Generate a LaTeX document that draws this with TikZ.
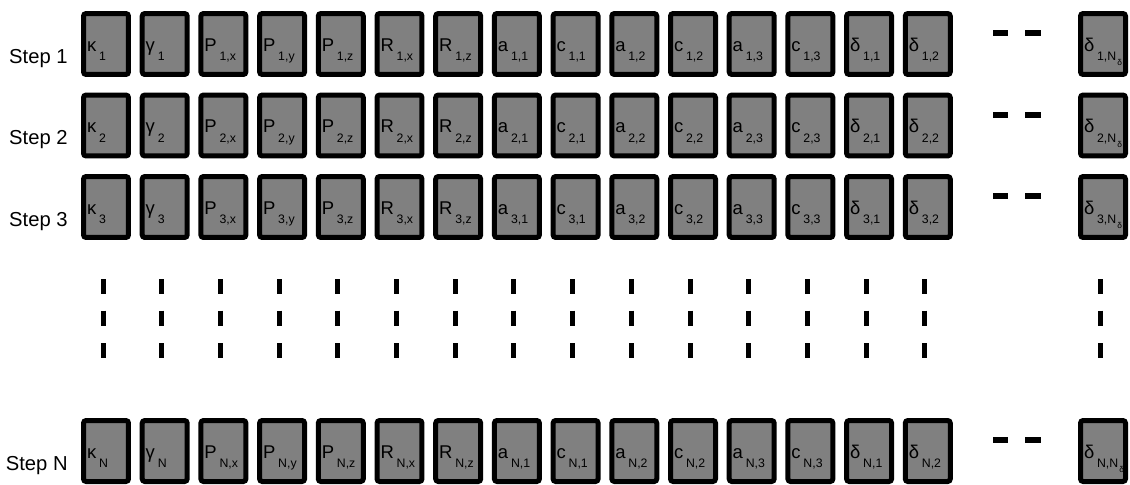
\documentclass[tikz,border=0pt]{standalone}
\usepackage{fontspec}
\setmainfont{Liberation Sans}
\usetikzlibrary{calc}

% symbol with a lowered index
\newcommand{\sub}[2]{\raisebox{-2.3pt}[0pt][0pt]{#1\kern1.6pt\raisebox{-5.5pt}{\fontsize{7}{8}\selectfont #2}}}
\newcommand{\Ndelta}{N\kern0.6pt\raisebox{-3pt}{\fontsize{4.8}{5}\selectfont δ}}

\begin{document}
\begin{tikzpicture}[
  x=0.02cm, y=-0.02cm,
  cell/.style={rectangle, draw, line width=0.1cm, rounded corners=1.5pt, fill=black!50, minimum width=0.9cm, minimum height=1.22cm, text width=0.759cm, inner xsep=2pt, text height=8pt, text depth=4.6pt, align=left, font=\fontsize{10.5}{12}\selectfont},
  steplbl/.style={anchor=base east, inner sep=0pt, font=\fontsize{11.5}{13}\selectfont},
  gapbar/.style={line width=0.12cm},
  vdot/.style={line width=0.1cm},
]
\useasboundingbox (0,0) rectangle (1130,484);

% Rows of parameters
\foreach \r/\yc in {1/44, 2/125.5, 3/207, N/451} {
  \node[steplbl] (step\r) at (68, \yc+19) {Step \r};
  \foreach \sym/\sfx [count=\i from 0] in {κ/{}, γ/{}, P/{,x}, P/{,y}, P/{,z}, R/{,x}, R/{,z}, a/{,1}, c/{,1}, a/{,2}, c/{,2}, a/{,3}, c/{,3}, δ/{,1}, δ/{,2}}
    \node[cell] (c\r-\i) at (106+58.7*\i, \yc) {\sub{\sym}{\r\sfx}};
  \node[cell] (c\r-last) at (1103, \yc) {\sub{δ}{\r,\Ndelta}};
  % horizontal gap
  \draw[gapbar] (993, \yc-11) -- (1008, \yc-11);
  \draw[gapbar] (1025, \yc-11) -- (1041, \yc-11);
}

% Vertical gap
\foreach \yd in {279, 310.5, 343} {
  \foreach \i in {0,...,14}
    \draw[vdot] (103+58.7*\i, \yd) -- +(0,15);
  \draw[vdot] (1100, \yd) -- +(0,15);
}
\end{tikzpicture}
\end{document}
